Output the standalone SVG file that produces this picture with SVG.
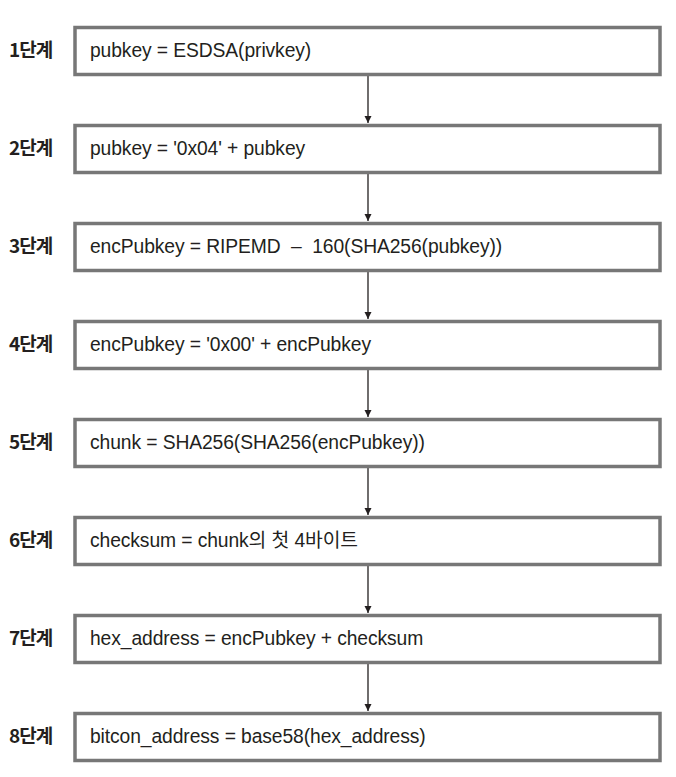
<svg xmlns="http://www.w3.org/2000/svg" width="676" height="777" viewBox="0 0 676 777">
<style>
.box{fill:#fff;stroke:#777;stroke-width:3.5}
.lbl{font-family:"Noto Sans CJK KR","Liberation Sans",sans-serif;font-weight:bold;font-size:19px;fill:#231f20;letter-spacing:-1px}
.txt{font-family:"Liberation Sans","Noto Sans CJK KR",sans-serif;font-size:19.3px;fill:#231f20;letter-spacing:-0.1px}
.con{stroke:#231f20;stroke-width:1.3;fill:none}
</style>
<defs>
<marker id="ah" markerWidth="7" markerHeight="8" refX="7" refY="3.5" orient="auto" markerUnits="userSpaceOnUse">
<path d="M0,0 L7,3.5 L0,7 Z" fill="#231f20"/>
</marker>
</defs>
<g id="connectors">
<line class="con" x1="368" y1="76" x2="368" y2="123" marker-end="url(#ah)"/>
<line class="con" x1="368" y1="174" x2="368" y2="221" marker-end="url(#ah)"/>
<line class="con" x1="368" y1="272" x2="368" y2="319" marker-end="url(#ah)"/>
<line class="con" x1="368" y1="370" x2="368" y2="417" marker-end="url(#ah)"/>
<line class="con" x1="368" y1="468" x2="368" y2="515" marker-end="url(#ah)"/>
<line class="con" x1="368" y1="566" x2="368" y2="613" marker-end="url(#ah)"/>
<line class="con" x1="368" y1="664" x2="368" y2="711" marker-end="url(#ah)"/>
</g>
<g id="step1"><text class="lbl" x="9" y="57">1단계</text><rect class="box" x="75" y="27.5" width="585" height="47"/><text class="txt" x="90" y="57">pubkey = ESDSA(privkey)</text></g>
<g id="step2"><text class="lbl" x="9" y="155">2단계</text><rect class="box" x="75" y="125.5" width="585" height="47"/><text class="txt" x="90" y="155">pubkey = '0x04' + pubkey</text></g>
<g id="step3"><text class="lbl" x="9" y="253">3단계</text><rect class="box" x="75" y="223.5" width="585" height="47"/><text class="txt" x="90" y="253" xml:space="preserve">encPubkey = RIPEMD  –  160(SHA256(pubkey))</text></g>
<g id="step4"><text class="lbl" x="9" y="351">4단계</text><rect class="box" x="75" y="321.5" width="585" height="47"/><text class="txt" x="90" y="351">encPubkey = '0x00' + encPubkey</text></g>
<g id="step5"><text class="lbl" x="9" y="449">5단계</text><rect class="box" x="75" y="419.5" width="585" height="47"/><text class="txt" x="90" y="449">chunk = SHA256(SHA256(encPubkey))</text></g>
<g id="step6"><text class="lbl" x="9" y="547">6단계</text><rect class="box" x="75" y="517.5" width="585" height="47"/><text class="txt" x="90" y="547">checksum = chunk의 첫 4바이트</text></g>
<g id="step7"><text class="lbl" x="9" y="645">7단계</text><rect class="box" x="75" y="615.5" width="585" height="47"/><text class="txt" x="90" y="645">hex_address = encPubkey + checksum</text></g>
<g id="step8"><text class="lbl" x="9" y="743">8단계</text><rect class="box" x="75" y="713.5" width="585" height="47"/><text class="txt" x="90" y="743">bitcon_address = base58(hex_address)</text></g>
</svg>
